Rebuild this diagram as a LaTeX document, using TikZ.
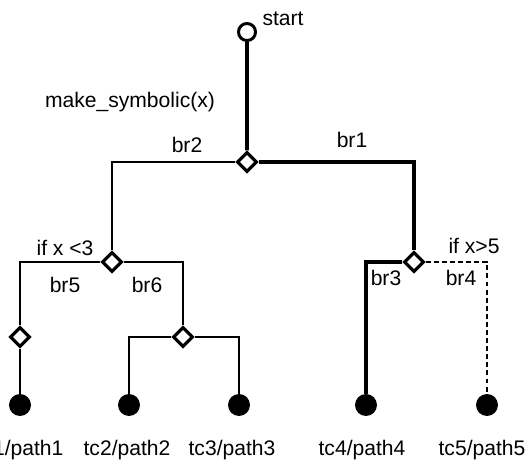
\documentclass[tikz,border=0pt]{standalone}
\usepackage{fontspec}
\setmainfont{Liberation Sans}
\usetikzlibrary{shapes.geometric}

\begin{document}
\begin{tikzpicture}[scale=0.2]
\tikzstyle{every node}+=[inner sep=0pt]
\tikzstyle{root}=[circle, draw=black, fill=white, line width=1.7pt, minimum size=9.7pt]
\tikzstyle{split}=[diamond, draw=black, fill=white, line width=1.8pt, minimum size=11.5pt]
\tikzstyle{leaf}=[circle, fill=black, minimum size=12.5pt]
\tikzstyle{taken}=[black, line width=2.2pt]
\tikzstyle{other}=[black, line width=1.2pt]
\tikzstyle{label}=[anchor=base, font=\fontsize{12}{14}\selectfont]
\useasboundingbox (0,0) rectangle (52.8,-46.2);
\node [root] (start) at (24.7,-3.2) {};
\node [split] (s0) at (24.7,-16.2) {};
\node [split] (sl) at (11.2,-26.2) {};
\node [split] (sr) at (41.4,-26.2) {};
\node [split] (s5) at (2.0,-33.7) {};
\node [split] (s6) at (18.3,-33.7) {};
\node [leaf] (tc1) at (2.0,-40.5) {};
\node [leaf] (tc2) at (12.9,-40.5) {};
\node [leaf] (tc3) at (23.9,-40.5) {};
\node [leaf] (tc4) at (36.6,-40.5) {};
\node [leaf] (tc5) at (48.7,-40.5) {};
\draw [taken] (start) -- (s0);
\draw [other] (s0) -| (sl);
\draw [taken] (s0) -| (sr);
\draw [other] (sl) -| (s5);
\draw [other] (sl) -| (s6);
\draw [other] (s5) -- (tc1);
\draw [other] (s6) -| (tc2);
\draw [other] (s6) -| (tc3);
\draw [taken] (sr) -| (tc4);
\draw [other, dash pattern=on 2.8pt off 1.8pt] (sr) -| (tc5);
\node [label] (lstart) at (28.3,-2.5) {start};
\node [label] (lsym) at (13.0,-10.7) {make\_symbolic(x)};
\node [label] (lbr2) at (18.7,-15.2) {br2};
\node [label] (lbr1) at (35.2,-14.7) {br1};
\node [label] (lifl) at (6.5,-25.5) {if x <3};
\node [label] (lbr5) at (6.5,-29.2) {br5};
\node [label] (lbr6) at (14.7,-29.2) {br6};
\node [label] (lifr) at (47.4,-25.3) {if x>5};
\node [label] (lbr3) at (38.6,-28.5) {br3};
\node [label] (lbr4) at (46.1,-28.5) {br4};
\node [label] (ltc1) at (2.0,-45.5) {tc1/path1};
\node [label] (ltc2) at (12.7,-45.5) {tc2/path2};
\node [label] (ltc3) at (23.2,-45.5) {tc3/path3};
\node [label] (ltc4) at (36.2,-45.5) {tc4/path4};
\node [label] (ltc5) at (48.2,-45.5) {tc5/path5};
\end{tikzpicture}
\end{document}
